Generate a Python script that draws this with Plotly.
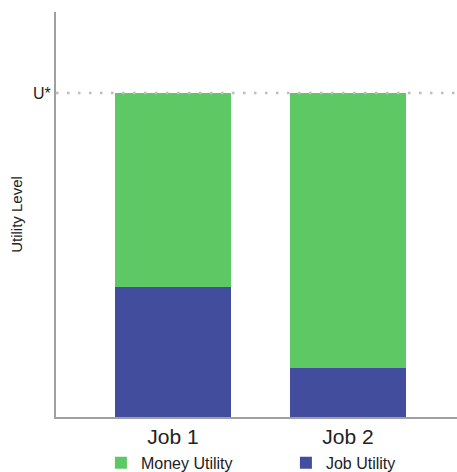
import plotly.graph_objects as go

jobs = ["Job 1", "Job 2"]
job_utility = [4.0, 1.5]
money_utility = [6.0, 8.5]
u_star = 10.0
y_max = 12.5

fig = go.Figure()
fig.add_trace(go.Bar(x=jobs, y=job_utility, name="Job Utility",
                     marker=dict(color="#424d9e", line=dict(width=0)), width=0.663))
fig.add_trace(go.Bar(x=jobs, y=money_utility, name="Money Utility",
                     marker=dict(color="#5ec865", line=dict(width=0)), width=0.663))

fig.add_shape(type="line", xref="paper", x0=0, x1=1, yref="y", y0=u_star, y1=u_star,
              line=dict(color="#bdbdbd", width=2.5, dash="2.5px,8.5px"), layer="above")

fig.update_layout(
    barmode="stack",
    width=457, height=472,
    margin=dict(l=56, r=0, t=12, b=55, autoexpand=False),
    paper_bgcolor="white", plot_bgcolor="white",
    font=dict(family="Arial, Liberation Sans, sans-serif", color="#222"),
    showlegend=True,
    legend=dict(orientation="h", x=0.112, xanchor="left", y=-0.113, yanchor="middle",
                traceorder="reversed", font=dict(size=16, color="#222"),
                entrywidth=140, entrywidthmode="pixels",
                bgcolor="rgba(0,0,0,0)"),
    xaxis=dict(range=[-0.669, 1.623], showline=True, linecolor="#a0a0a0", linewidth=2,
               ticks="", tickfont=dict(size=21, color="#222"), showgrid=False,
               automargin=False),
    yaxis=dict(range=[0, y_max], showline=True, linecolor="#a0a0a0", linewidth=2,
               tickvals=[u_star], ticktext=["U*"], ticks="", showgrid=False, zeroline=False,
               tickfont=dict(size=16, color="#222"), automargin=False,
               title=dict(text="Utility Level", font=dict(size=15, color="#222"), standoff=7)),
)

fig.write_html("out.html", config={"displayModeBar": False},
               post_script="document.body.style.margin='0';document.body.style.overflow='hidden';")
